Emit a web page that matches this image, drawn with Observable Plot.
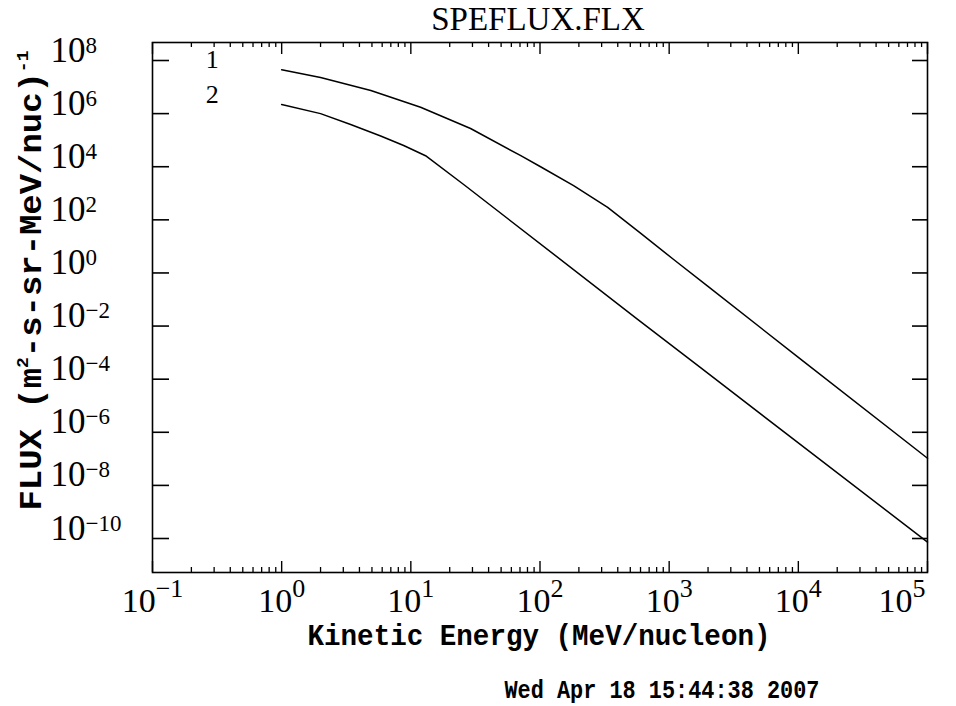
<!DOCTYPE html>
<html>
<head>
<meta charset="utf-8">
<script src="https://cdn.jsdelivr.net/npm/d3@7"></script>
<script src="https://cdn.jsdelivr.net/npm/@observablehq/plot@0.6"></script>
<style>
  html, body { margin: 0; padding: 0; background: #fff; }
  #chart svg { display: block; }
</style>
</head>
<body>
<div id="chart"></div>
<script>
// ---------- data ----------
const chartTitle = "SPEFLUX.FLX";
const xTitle = "Kinetic Energy (MeV/nucleon)";
const yTitle = "FLUX (m^{2}-s-sr-MeV/nuc)^{-1}";
const dateStamp = "Wed Apr 18 15:44:38 2007";

const seriesNames = ["1", "2"];
const energy1 = [1, 2, 4.9, 11.9, 29, 71, 101, 182, 334, 603, 1083, 1986, 10000, 100000];
const flux1   = [4.5e7, 2.3e7, 7.4e6, 1.74e6, 2.75e5, 2.6e4, 1.0e4, 1.95e3, 295, 31, 3.2, 0.32, 6.6e-4, 1.05e-7];
const energy2 = [1, 2, 3.42, 5.84, 8.8, 13, 25.8, 570, 1750, 100000];
const flux2   = [2.2e6, 1.0e6, 3.9e5, 1.44e5, 6.3e4, 2.6e4, 2.1e3, 0.018, 2.7e-4, 7.3e-11];
const labelEnergy = 0.29;   // where the series numbers sit

const xMajor = [0.1, 1, 10, 100, 1000, 10000, 100000];
const xMinorMult = [2, 3, 4, 5, 6, 7, 8, 9];
const yMajor = [1e-10, 1e-8, 1e-6, 1e-4, 1e-2, 1, 1e2, 1e4, 1e6, 1e8];
const xDomain = [0.1, 1e5];
const yDomain = [Math.pow(10, -11.28), Math.pow(10, 8.678)];

// ---------- layout ----------
const W = 956, H = 706;
const mL = 152, mR = 29, mT = 42, mB = 134;
const fw = W - mL - mR, fh = H - mT - mB;
const serif = "'Liberation Serif', 'Times New Roman', serif";
const mono = "'Liberation Mono', 'Courier New', monospace";

const xMinor = xMajor.slice(0, -1).flatMap(d => xMinorMult.map(m => m * d));
const rows = [
  ...energy1.map((e, i) => ({series: seriesNames[0], e, f: flux1[i]})),
  ...energy2.map((e, i) => ({series: seriesNames[1], e, f: flux2[i]}))
];
const seriesLabels = [
  {name: seriesNames[0], e: labelEnergy, f: flux1[0]},
  {name: seriesNames[1], e: labelEnergy, f: flux2[0]}
];
const expStr = d => { const e = Math.round(Math.log10(d)); return e < 0 ? "\u2212" + (-e) : String(e); };
const xFmt = d => `10^{${expStr(d)}}`;   // x tick labels use ^{ }
const yFmt = d => `10^[${expStr(d)}]`;   // y tick labels use ^[ ]

const plot = Plot.plot({
  width: W, height: H,
  marginLeft: mL, marginRight: mR, marginTop: mT, marginBottom: mB,
  x: {type: "log", domain: xDomain, axis: null},
  y: {type: "log", domain: yDomain, axis: null},
  style: {background: "#fff", color: "#000", overflow: "visible"},
  marks: [
    Plot.frame({stroke: "#000", strokeWidth: 1.6}),
    // x ticks bottom & top
    Plot.tickX(xMajor, {x: d => d, insetTop: fh - 11, stroke: "#000", strokeWidth: 1.4}),
    Plot.tickX(xMajor, {x: d => d, insetBottom: fh - 12, stroke: "#000", strokeWidth: 1.4}),
    Plot.tickX(xMinor, {x: d => d, insetTop: fh - 5, stroke: "#000", strokeWidth: 1.3}),
    Plot.tickX(xMinor, {x: d => d, insetBottom: fh - 5, stroke: "#000", strokeWidth: 1.3}),
    // y ticks left & right
    Plot.tickY(yMajor, {y: d => d, insetRight: fw - 17, stroke: "#000", strokeWidth: 1.6}),
    Plot.tickY(yMajor, {y: d => d, insetLeft: fw - 15, stroke: "#000", strokeWidth: 1.6}),
    // curves
    Plot.line(rows, {x: "e", y: "f", z: "series", stroke: "#000", strokeWidth: 1.5}),
    // series numbers
    Plot.text(seriesLabels, {x: "e", y: "f", text: "name", lineAnchor: "bottom", dy: -2,
      fontFamily: serif, fontSize: 26, fill: "#000"}),
    // x tick labels
    Plot.text(xMajor.slice(0, -1), {x: d => d, frameAnchor: "bottom", dy: 39, lineAnchor: "bottom",
      textAnchor: "middle", text: xFmt, fontFamily: serif, fontSize: 34, fill: "#000"}),
    Plot.text(xMajor.slice(-1), {x: d => d, frameAnchor: "bottom", dy: 39, dx: -2, lineAnchor: "bottom",
      textAnchor: "end", text: xFmt, fontFamily: serif, fontSize: 34, fill: "#000"}),
    // y tick labels
    Plot.text(yMajor, {y: d => d, frameAnchor: "left", dx: 50 - mL, dy: 1, textAnchor: "start", lineAnchor: "bottom",
      text: yFmt, fontFamily: serif, fontSize: 35, fill: "#000"}),
    // title
    Plot.text([chartTitle], {frameAnchor: "top", dy: -13, dx: -2, lineAnchor: "bottom", textAnchor: "middle",
      fontFamily: serif, fontSize: 33, fill: "#000"}),
    // x title
    Plot.text([xTitle], {frameAnchor: "bottom", dy: 72, dx: -1, lineAnchor: "bottom", textAnchor: "middle",
      fontFamily: mono, fontWeight: "bold", fontSize: 29, fill: "#000"}),
    // date
    Plot.text([dateStamp], {frameAnchor: "bottom", dy: 125, dx: 122, lineAnchor: "bottom", textAnchor: "middle",
      fontFamily: mono, fontWeight: "bold", fontSize: 26, fill: "#000"}),
    // y title
    Plot.text([yTitle], {frameAnchor: "left", rotate: -90, dx: 40 - mL, dy: -27, lineAnchor: "bottom",
      textAnchor: "middle", fontFamily: mono, fontWeight: "bold", fontSize: 32, fill: "#000"})
  ]
});

// superscript rendering for markup inside Plot's own text elements
function supify(test, re, supSize, raise) {
  d3.select(plot).selectAll("text").each(function () {
    const content = this.textContent;
    if (!test(content)) return;
    const parts = content.split(re);
    const el = d3.select(this);
    el.text(null);
    let cur = 0;
    parts.forEach((p, i) => {
      if (!p) return;
      const ts = el.append("tspan").text(p);
      if (i % 2) { ts.attr("font-size", supSize).attr("dy", -raise - cur); cur = -raise; }
      else if (cur) { ts.attr("dy", -cur); cur = 0; }
    });
  });
}
supify(c => /^10\^\{/.test(c), /\^\{([^}]*)\}/, 26, 15);
supify(c => /^10\^\[/.test(c), /\^\[([^\]]*)\]/, 23, 9);
supify(c => c === yTitle, /\^\{([^}]*)\}/, 17, 13);

function fitLength(test, len) {
  d3.select(plot).selectAll("text").filter(function () { return test(this.textContent); })
    .attr("textLength", len).attr("lengthAdjust", "spacingAndGlyphs");
}
fitLength(c => c === xTitle, 463);
fitLength(c => c === dateStamp, 315);
fitLength(c => c === yTitle.replace(/\^\{([^}]*)\}/g, "$1"), 460);

document.getElementById("chart").appendChild(plot);
</script>
</body>
</html>
